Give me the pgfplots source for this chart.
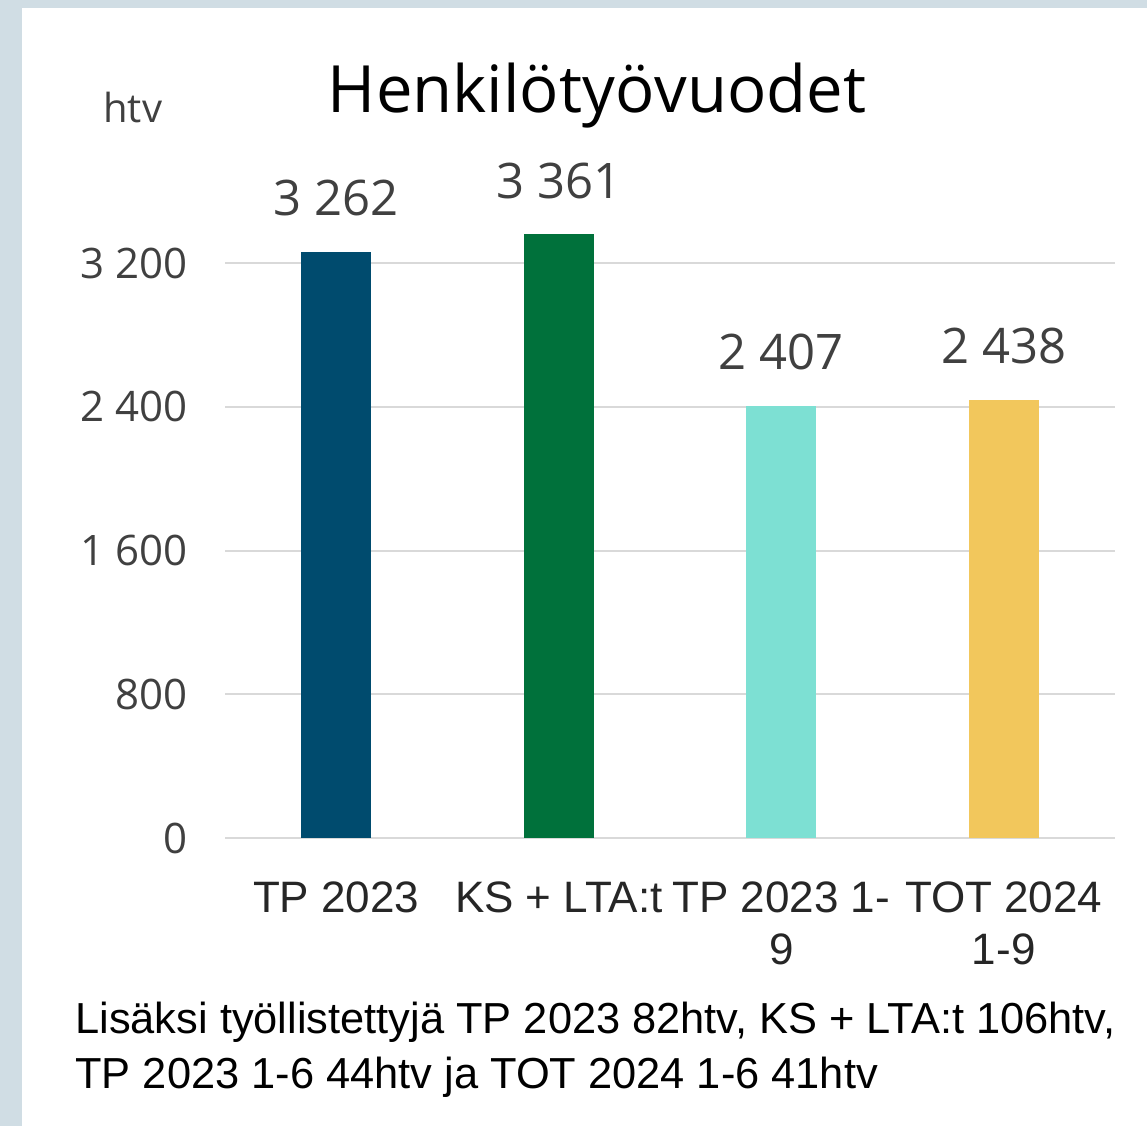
\documentclass[border=0pt]{standalone}
\usepackage{pgfplots}
\pgfplotsset{compat=1.18}
\usepackage{fontspec}
\setmainfont{Open Sans}
\newfontfamily\catfont{Liberation Sans}
\definecolor{bgc}{HTML}{D0DDE4}
\definecolor{c1}{HTML}{004B6E}
\definecolor{c2}{HTML}{00713B}
\definecolor{c3}{HTML}{7DE0D3}
\definecolor{c4}{HTML}{F2C75C}
\definecolor{txt}{HTML}{404040}
\begin{document}
\begin{tikzpicture}[x=1pt,y=1pt]
\fill[bgc] (0,0) rectangle (573.5,-563);
\fill[white] (11,-4) rectangle (573.5,-563);
\node[anchor=base, inner sep=0pt, font=\fontsize{32.6}{38}\selectfont] at (298.5,-56) {Henkilötyövuodet};
\node[anchor=base west, inner sep=0pt, font=\fontsize{20}{24}\selectfont, text=txt] at (51.5,-61) {htv};
\begin{axis}[
  at={(112.5pt,-419pt)}, anchor=south west,
  width=445pt, height=314.45pt, scale only axis,
  xmin=-0.5, xmax=3.5, ymin=0, ymax=3500,
  clip=false,
  axis line style={draw=none},
  major tick length=0pt,
  ytick={0,800,1600,2400,3200},
  ymajorgrids, grid style={line width=1pt, color=gray!30},
  xtick={0,1,2,3},
  xticklabels={TP 2023, KS + LTA:t, {TP 2023 1-\\9}, {TOT 2024\\1-9}},
  xticklabel style={align=center, font=\catfont\fontsize{22}{26}\selectfont, text=black!85, anchor=north, inner sep=0pt, yshift=-21.5pt},
  yticklabel style={anchor=east, inner sep=0pt, xshift=-18.5pt, font=\fontsize{21}{24}\selectfont, text=txt},
  /pgf/number format/1000 sep={\ },
  /pgf/number format/assume math mode=true,
  ybar, bar width=35pt, bar shift=0pt,
  nodes near coords,
  nodes near coords style={anchor=base, inner sep=0pt, yshift=18pt, font=\fontsize{24.5}{28}\selectfont, text=txt},
]
\addplot[fill=c1, draw=none] coordinates {(0,3262)};
\addplot[fill=c2, draw=none] coordinates {(1,3361)};
\addplot[fill=c3, draw=none] coordinates {(2,2407)};
\addplot[fill=c4, draw=none] coordinates {(3,2438)};
\end{axis}
\node[anchor=base west, align=left, inner sep=0pt, font=\catfont\fontsize{21.7}{27.5}\selectfont] at (37.5,-544) {Lisäksi työllistettyjä TP 2023 82htv, KS + LTA:t 106htv,\\TP 2023 1-6 44htv ja TOT 2024 1-6 41htv};
\end{tikzpicture}
\end{document}
